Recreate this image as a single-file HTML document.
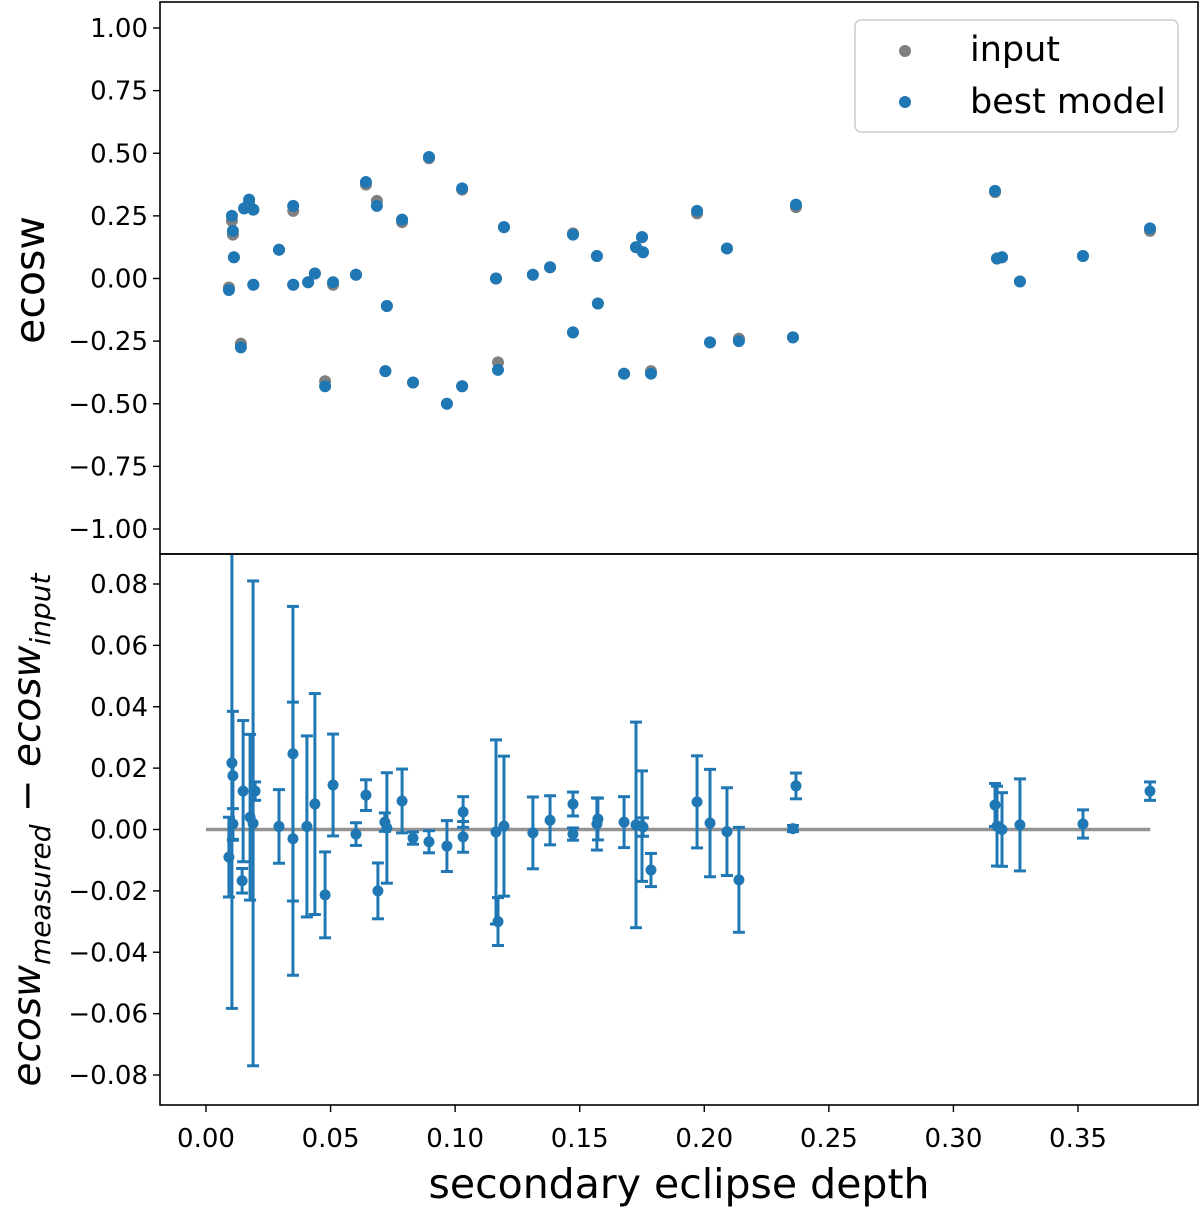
<!DOCTYPE html>
<html><head><meta charset="utf-8">
<style>
html,body{margin:0;padding:0;background:#fff;}
svg{display:block;font-family:"DejaVu Sans","Liberation Sans",sans-serif;}
</style></head>
<body>
<svg id="chart" width="1200" height="1207" viewBox="0 0 1200 1207" xmlns="http://www.w3.org/2000/svg">
<g id="top"></g>
<g id="bot"></g>
<text x="679" y="1198" font-size="41" text-anchor="middle" fill="#000">secondary eclipse depth</text>
<text transform="translate(44,280) rotate(-90)" font-size="41" text-anchor="middle" fill="#000">ecosw</text>
<text transform="translate(40,830) rotate(-90)" font-size="39" text-anchor="middle" font-style="italic" fill="#000">ecosw<tspan font-size="28" dy="10">measured</tspan><tspan dy="-10" font-style="normal"> − </tspan>ecosw<tspan font-size="28" dy="10">input</tspan></text>
<g>
<rect x="855" y="20" width="323" height="112" rx="6" fill="#fff" fill-opacity="0.8" stroke="#cccccc" stroke-width="1.5"/>
<circle cx="905" cy="51" r="6" fill="#808080"/>
<text x="970" y="61" font-size="35">input</text>
<circle cx="905" cy="102" r="6" fill="#1f77b4"/>
<text x="970" y="113" font-size="35">best model</text>
</g>
</svg>
<script>
const depth = [0.0092,0.0104,0.0108,0.0112,0.0140,0.0153,0.0173,0.0190,0.0190,0.0293,0.0350,0.0350,0.0410,0.0437,0.0478,0.0510,0.0602,0.0642,0.0686,0.0720,0.0726,0.0787,0.0831,0.0895,0.0967,0.1028,0.1028,0.1164,0.1172,0.1196,0.1312,0.1381,0.1473,0.1473,0.1569,0.1573,0.1678,0.1726,0.1750,0.1754,0.1786,0.1971,0.2023,0.2091,0.2139,0.2356,0.2368,0.3167,0.3175,0.3195,0.3267,0.3520,0.3789];
const bestModel = [-0.046,0.25,0.19,0.085,-0.275,0.28,0.315,0.275,-0.025,0.115,0.29,-0.025,-0.015,0.02,-0.43,-0.015,0.015,0.385,0.29,-0.37,-0.11,0.235,-0.415,0.485,-0.50,-0.43,0.36,0.0,-0.365,0.205,0.015,0.045,0.175,-0.215,0.09,-0.10,-0.38,0.125,0.165,0.105,-0.38,0.27,-0.255,0.12,-0.25,-0.235,0.295,0.35,0.08,0.085,-0.012,0.09,0.20];
const inputVal = [-0.036,0.23,0.175,0.085,-0.26,0.28,0.305,0.275,-0.025,0.115,0.27,-0.025,-0.015,0.02,-0.41,-0.025,0.015,0.375,0.31,-0.37,-0.11,0.225,-0.415,0.48,-0.50,-0.43,0.355,0.0,-0.335,0.205,0.015,0.045,0.18,-0.215,0.09,-0.10,-0.38,0.125,0.165,0.105,-0.37,0.26,-0.255,0.12,-0.24,-0.235,0.285,0.345,0.08,0.085,-0.012,0.09,0.19];

const diffDepth = [0.0104,0.0108,0.0092,0.0108,0.0145,0.0149,0.0177,0.0197,0.0189,0.0293,0.0349,0.0349,0.0405,0.0437,0.0478,0.0510,0.0602,0.0642,0.0690,0.0718,0.0726,0.0787,0.0831,0.0895,0.0967,0.1032,0.1032,0.1164,0.1172,0.1196,0.1312,0.1381,0.1473,0.1473,0.1573,0.1569,0.1678,0.1726,0.1750,0.1754,0.1786,0.1971,0.2023,0.2091,0.2139,0.2368,0.2356,0.3167,0.3175,0.3195,0.3267,0.3520,0.3789];
const diffVal = [0.0217,0.0175,-0.0090,0.0018,-0.0167,0.0125,0.0040,0.0125,0.0020,0.0010,0.0247,-0.0030,0.0010,0.0083,-0.0213,0.0145,-0.0015,0.0112,-0.0200,0.0024,0.0005,0.0093,-0.0028,-0.0040,-0.0054,0.0057,-0.0024,-0.0008,-0.0300,0.0011,-0.0011,0.0030,0.0083,-0.0015,0.0034,0.0018,0.0024,0.0015,0.0011,0.0008,-0.0132,0.0090,0.0021,-0.0007,-0.0164,0.0142,0.0003,0.0080,0.0011,0.0000,0.0015,0.0018,0.0125];
const diffErr = [0.080,0.021,0.013,0.005,0.004,0.023,0.027,0.003,0.079,0.012,0.048,0.0445,0.0295,0.036,0.014,0.0166,0.0037,0.005,0.0091,0.003,0.018,0.0104,0.002,0.0036,0.0083,0.005,0.005,0.030,0.0078,0.0228,0.0117,0.008,0.0039,0.002,0.0068,0.0085,0.0083,0.0335,0.018,0.003,0.0054,0.015,0.0175,0.0143,0.0171,0.0042,0.001,0.007,0.013,0.012,0.015,0.0046,0.003];

const xTicks = ["0.00","0.05","0.10","0.15","0.20","0.25","0.30","0.35"];
const topTicks = ["1.00","0.75","0.50","0.25","0.00","−0.25","−0.50","−0.75","−1.00"];
const botTicks = ["0.08","0.06","0.04","0.02","0.00","−0.02","−0.04","−0.06","−0.08"];

const NS = "http://www.w3.org/2000/svg";
const L=160,R=1198,T1=2,B1=554,T2=554,B2=1105;
const xS = v => 206 + v*2491.4;
const yTop = v => 278.5 - v*250.5;
const yBot = v => 829.5 - v*3068.75;
const num = s => parseFloat(s.replace("−","-"));
function mk(tag, attrs, parent){const e=document.createElementNS(NS,tag);for(const k in attrs)e.setAttribute(k,attrs[k]);parent.appendChild(e);return e;}
const svg=document.getElementById('chart');
const gT=document.getElementById('top'), gB=document.getElementById('bot');

const defs=mk('defs',{},svg);
const c1=mk('clipPath',{id:'c1'},defs); mk('rect',{x:L,y:T1,width:R-L,height:B1-T1},c1);
const c2=mk('clipPath',{id:'c2'},defs); mk('rect',{x:L,y:T2,width:R-L,height:B2-T2},c2);

const tp=mk('g',{'clip-path':'url(#c1)'},gT);
inputVal.forEach((v,i)=>{
  const c=mk('circle',{cx:xS(depth[i]),cy:yTop(v),r:6,fill:'#808080'},tp);
  
  
});
bestModel.forEach((v,i)=>{
  const c=mk('circle',{cx:xS(depth[i]),cy:yTop(v),r:6,fill:'#1f77b4'},tp);
  
  
});
const bp=mk('g',{'clip-path':'url(#c2)'},gB);
const zl=mk('line',{x1:xS(0),x2:xS(0.379),y1:yBot(0),y2:yBot(0),stroke:'#939393','stroke-width':3.5},bp);


diffVal.forEach((v,i)=>{
  const x=xS(diffDepth[i]), y1=yBot(v+diffErr[i]), y2=yBot(v-diffErr[i]);
  const g=mk('g',{stroke:'#1f77b4','stroke-width':3},bp);
  
  
  mk('line',{x1:x,x2:x,y1:y1,y2:y2},g);
  mk('line',{x1:x-6,x2:x+6,y1:y1,y2:y1},g);
  mk('line',{x1:x-6,x2:x+6,y1:y2,y2:y2},g);
  const c=mk('circle',{cx:x,cy:yBot(v),r:5.5,fill:'#1f77b4'},bp);
  
  
});
[[T1,B1,gT],[T2,B2,gB]].forEach(([t,b,g])=>{
  const r=mk('rect',{x:L,y:t,width:R-L,height:b-t,fill:'none',stroke:'#000','stroke-width':1.6},g);
  
  
});
topTicks.forEach(s=>{
  const y=yTop(num(s));
  mk('line',{x1:L-7,x2:L,y1:y,y2:y,stroke:'#000','stroke-width':1.4},gT);
  const t=mk('text',{x:L-12,y:y+9,'font-size':26,'text-anchor':'end'},gT);t.textContent=s;
  
  
});
botTicks.forEach(s=>{
  const y=yBot(num(s));
  mk('line',{x1:L-7,x2:L,y1:y,y2:y,stroke:'#000','stroke-width':1.4},gB);
  const t=mk('text',{x:L-12,y:y+9,'font-size':26,'text-anchor':'end'},gB);t.textContent=s;
  
  
});
xTicks.forEach(s=>{
  const x=xS(num(s));
  mk('line',{x1:x,x2:x,y1:B2,y2:B2+7,stroke:'#000','stroke-width':1.4},gB);
  const t=mk('text',{x:x,y:B2+42,'font-size':26,'text-anchor':'middle'},gB);t.textContent=s;
  
  
});
</script>
</body></html>
